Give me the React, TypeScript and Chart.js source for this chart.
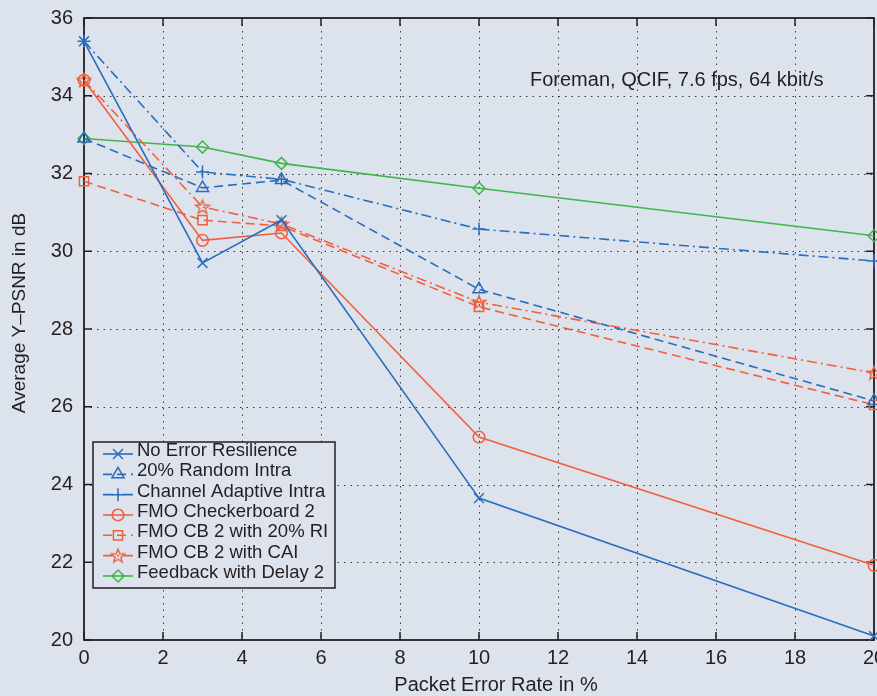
import React, { useEffect, useRef } from "react";
import { Chart, registerables } from "chart.js";

Chart.register(...registerables);

// ---- data ----
const errorRates = [0, 3, 5, 10, 20];
const xTicks = [0, 2, 4, 6, 8, 10, 12, 14, 16, 18, 20];
const yTicks = [20, 22, 24, 26, 28, 30, 32, 34, 36];

const noErrorResilience = [35.4, 29.7, 30.8, 23.65, 20.1];
const randomIntra = [32.9, 31.63, 31.83, 29.02, 26.15];
const channelAdaptiveIntra = [35.4, 32.04, 31.85, 30.57, 29.75];
const fmoCheckerboard = [34.4, 30.28, 30.47, 25.22, 21.92];
const fmoRandomIntra = [31.8, 30.8, 30.65, 28.57, 26.05];
const fmoCai = [34.4, 31.14, 30.7, 28.69, 26.87];
const feedbackDelay = [32.9, 32.68, 32.26, 31.62, 30.4];

const seriesNames = [
  "No Error Resilience",
  "20% Random Intra",
  "Channel Adaptive Intra",
  "FMO Checkerboard 2",
  "FMO CB 2 with 20% RI",
  "FMO CB 2 with CAI",
  "Feedback with Delay 2",
];
const annotation = "Foreman, QCIF, 7.6 fps, 64 kbit/s";
const xTitle = "Packet Error Rate in %";
const yTitle = "Average Y\u2013PSNR in dB";

// ---- style ----
const BG = "#dde3ec";
const INK = "#231f20";
const BLUE = "#2a6dbd";
const ORANGE = "#f0603e";
const GREEN = "#3fb54b";
const FONT = "'Liberation Sans', Arial, sans-serif";
const CANVAS_W = 920;
const CANVAS_H = 696;
const AREA = { left: 84, right: 874, top: 18, bottom: 640 };

function makeStar(color: string): HTMLCanvasElement {
  const c = document.createElement("canvas");
  c.width = 18;
  c.height = 18;
  const g = c.getContext("2d")!;
  g.strokeStyle = color;
  g.lineWidth = 1.4;
  g.beginPath();
  for (let i = 0; i < 10; i++) {
    const r = i % 2 === 0 ? 7.2 : 3;
    const a = -Math.PI / 2 + (i * Math.PI) / 5;
    const px = 9 + r * Math.cos(a);
    const py = 9.5 + r * Math.sin(a);
    if (i === 0) g.moveTo(px, py);
    else g.lineTo(px, py);
  }
  g.closePath();
  g.stroke();
  return c;
}

function toPoints(vals: number[]) {
  return errorRates.map((x, i) => ({ x, y: vals[i] }));
}

function drawMarker(ctx: CanvasRenderingContext2D, style: any, x: number, y: number, r: number, color: string) {
  ctx.save();
  ctx.strokeStyle = color;
  ctx.lineWidth = 1.5;
  ctx.setLineDash([]);
  if (typeof style !== "string") {
    ctx.drawImage(style, x - style.width / 2, y - style.height / 2);
    ctx.restore();
    return;
  }
  ctx.beginPath();
  if (style === "crossRot") {
    const d = r * Math.SQRT1_2;
    ctx.moveTo(x - d, y - d); ctx.lineTo(x + d, y + d);
    ctx.moveTo(x - d, y + d); ctx.lineTo(x + d, y - d);
  } else if (style === "cross") {
    ctx.moveTo(x, y - r); ctx.lineTo(x, y + r);
    ctx.moveTo(x - r, y); ctx.lineTo(x + r, y);
  } else if (style === "triangle") {
    const s = r;
    ctx.moveTo(x, y - s);
    ctx.lineTo(x + s * Math.sin(Math.PI / 3), y + s * 0.5);
    ctx.lineTo(x - s * Math.sin(Math.PI / 3), y + s * 0.5);
    ctx.closePath();
  } else if (style === "circle") {
    ctx.arc(x, y, r, 0, Math.PI * 2);
  } else if (style === "rect") {
    const s = r * Math.SQRT1_2;
    ctx.rect(x - s, y - s, 2 * s, 2 * s);
  } else if (style === "rectRot") {
    ctx.moveTo(x, y - r); ctx.lineTo(x + r, y); ctx.lineTo(x, y + r); ctx.lineTo(x - r, y);
    ctx.closePath();
  }
  ctx.stroke();
  ctx.restore();
}

const framePlugin = {
  id: "frame",
  beforeDraw(chart: any) {
    const ctx = chart.ctx;
    ctx.save();
    ctx.fillStyle = BG;
    ctx.fillRect(0, 0, chart.width, chart.height);
    ctx.restore();
  },
  beforeDatasetsDraw(chart: any) {
    const { ctx, chartArea: a } = chart;
    const xs = chart.scales.x;
    const ys = chart.scales.y;
    ctx.save();
    ctx.strokeStyle = "#3a3a3a";
    ctx.lineWidth = 1;
    ctx.setLineDash([1.5, 5]);
    xTicks.slice(1, -1).forEach((v) => {
      const px = Math.round(xs.getPixelForValue(v)) + 0.5;
      ctx.beginPath(); ctx.moveTo(px, a.top); ctx.lineTo(px, a.bottom); ctx.stroke();
    });
    yTicks.slice(1, -1).forEach((v) => {
      const py = Math.round(ys.getPixelForValue(v)) + 0.5;
      ctx.beginPath(); ctx.moveTo(a.left, py); ctx.lineTo(a.right, py); ctx.stroke();
    });
    ctx.setLineDash([]);
    ctx.strokeStyle = INK;
    ctx.lineWidth = 1.5;
    const tl = 8;
    ctx.beginPath();
    xTicks.forEach((v) => {
      const px = xs.getPixelForValue(v);
      ctx.moveTo(px, a.bottom); ctx.lineTo(px, a.bottom - tl);
      ctx.moveTo(px, a.top); ctx.lineTo(px, a.top + tl);
    });
    yTicks.forEach((v) => {
      const py = ys.getPixelForValue(v);
      ctx.moveTo(a.left, py); ctx.lineTo(a.left + tl, py);
      ctx.moveTo(a.right, py); ctx.lineTo(a.right - tl, py);
    });
    ctx.stroke();
    ctx.lineWidth = 1.8;
    ctx.strokeRect(a.left, a.top, a.right - a.left, a.bottom - a.top);

    // annotation + titles
    ctx.fillStyle = INK;
    ctx.font = `20px ${FONT}`;
    ctx.textBaseline = "alphabetic";
    ctx.textAlign = "left";
    ctx.fillText(annotation, 530, 86);
    ctx.textAlign = "center";
    ctx.fillText(xTitle, 496, 691);
    ctx.save();
    ctx.translate(25, 313);
    ctx.rotate(-Math.PI / 2);
    ctx.font = `19px ${FONT}`;
    ctx.fillText(yTitle, 0, 0);
    ctx.restore();
    ctx.restore();
  },
  afterDatasetsDraw(chart: any) {
    const ctx = chart.ctx;
    const box = { x: 93, y: 442, w: 242, h: 146 };
    ctx.save();
    ctx.fillStyle = BG;
    ctx.fillRect(box.x, box.y, box.w, box.h);
    ctx.strokeStyle = INK;
    ctx.lineWidth = 1.5;
    ctx.strokeRect(box.x, box.y, box.w, box.h);
    chart.data.datasets.forEach((ds: any, i: number) => {
      const base = 456 + i * 20.33;
      const ly = base - 2;
      ctx.save();
      ctx.strokeStyle = ds.borderColor;
      ctx.lineWidth = ds.borderWidth;
      ctx.setLineDash(ds.borderDash || []);
      ctx.beginPath();
      ctx.moveTo(103, ly);
      ctx.lineTo(133, ly);
      ctx.stroke();
      ctx.restore();
      drawMarker(ctx, ds.pointStyle, 118, ly, ds.pointRadius, ds.borderColor);
      ctx.fillStyle = INK;
      ctx.font = `18.5px ${FONT}`;
      ctx.textAlign = "left";
      ctx.textBaseline = "alphabetic";
      ctx.fillText(ds.label, 137, base);
    });
    ctx.restore();
  },
};

export default function App() {
  const ref = useRef<HTMLCanvasElement | null>(null);

  useEffect(() => {
    if (!ref.current) return;
    const star = makeStar(ORANGE);
    const mk = (label: string, vals: number[], color: string, dash: number[], pointStyle: any, r: number) => ({
      label,
      data: toPoints(vals),
      borderColor: color,
      backgroundColor: "rgba(0,0,0,0)",
      pointBackgroundColor: "rgba(0,0,0,0)",
      pointBorderColor: color,
      borderWidth: 1.6,
      pointBorderWidth: 1.5,
      borderDash: dash,
      pointStyle,
      pointRadius: r,
      pointHoverRadius: r,
      tension: 0,
      clip: false as const,
    });
    const dashed = [9, 5];
    const dashDot = [10, 4, 2, 4];
    const chart = new Chart(ref.current, {
      type: "line",
      data: {
        datasets: [
          mk(seriesNames[0], noErrorResilience, BLUE, [], "crossRot", 7),
          mk(seriesNames[1], randomIntra, BLUE, dashed, "triangle", 7),
          mk(seriesNames[2], channelAdaptiveIntra, BLUE, dashDot, "cross", 6.5),
          mk(seriesNames[3], fmoCheckerboard, ORANGE, [], "circle", 5.8),
          mk(seriesNames[4], fmoRandomIntra, ORANGE, dashed, "rect", 6.5),
          mk(seriesNames[5], fmoCai, ORANGE, dashDot, star, 7),
          mk(seriesNames[6], feedbackDelay, GREEN, [], "rectRot", 6),
        ],
      },
      options: {
        responsive: false,
        animation: false,
        devicePixelRatio: 1,
        events: [],
        layout: { padding: { left: 0, top: AREA.top, right: CANVAS_W - AREA.right, bottom: 0 } },
        plugins: { legend: { display: false }, tooltip: { enabled: false }, title: { display: false } },
        scales: {
          x: {
            type: "linear",
            min: 0,
            max: 20,
            grid: { display: false, drawTicks: false },
            border: { display: false },
            afterBuildTicks: (s: any) => { s.ticks = xTicks.map((v) => ({ value: v })); },
            afterFit: (s: any) => {
              s.height = CANVAS_H - AREA.bottom;
              s.paddingLeft = 0; s.paddingRight = 0; s.paddingTop = 0; s.paddingBottom = 0;
            },
            ticks: {
              autoSkip: false,
              maxRotation: 0,
              padding: 6,
              color: INK,
              font: { family: FONT, size: 20 },
            },
          },
          y: {
            type: "linear",
            min: 20,
            max: 36,
            grid: { display: false, drawTicks: false },
            border: { display: false },
            afterBuildTicks: (s: any) => { s.ticks = yTicks.map((v) => ({ value: v })); },
            afterFit: (s: any) => {
              s.width = AREA.left;
              s.paddingLeft = 0; s.paddingRight = 0; s.paddingTop = 0; s.paddingBottom = 0;
            },
            ticks: {
              autoSkip: false,
              padding: 11,
              color: INK,
              font: { family: FONT, size: 20 },
            },
          },
        },
      },
      plugins: [framePlugin],
    } as any);
    return () => chart.destroy();
  }, []);

  return (
    <div
      style={{
        position: "fixed",
        left: 0,
        top: 0,
        width: 877,
        height: 696,
        overflow: "hidden",
        background: BG,
      }}
    >
      <canvas ref={ref} width={CANVAS_W} height={CANVAS_H} style={{ display: "block", width: CANVAS_W, height: CANVAS_H }} />
    </div>
  );
}
